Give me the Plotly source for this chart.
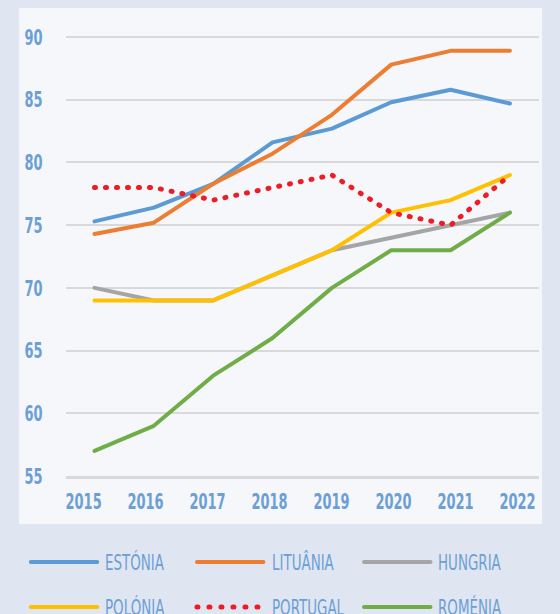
import plotly.graph_objects as go

years = [2015, 2016, 2017, 2018, 2019, 2020, 2021, 2022]
estonia = [75.3, 76.4, 78.3, 81.6, 82.7, 84.8, 85.8, 84.7]
lituania = [74.3, 75.2, 78.3, 80.7, 83.8, 87.8, 88.9, 88.9]
hungria = [70, 69, 69, 71, 73, 74, 75, 76]
polonia = [69, 69, 69, 71, 73, 76, 77, 79]
portugal = [78, 78, 77, 78, 79, 76, 75, 79]
romenia = [57, 59, 63, 66, 70, 73, 73, 76]
y_ticks = [55, 60, 65, 70, 75, 80, 85, 90]

series = [
    ("ESTÓNIA", estonia, "#5b9bd5", "solid", 4),
    ("LITUÂNIA", lituania, "#ed7d31", "solid", 4),
    ("HUNGRIA", hungria, "#a5a5a5", "solid", 4),
    ("POLÓNIA", polonia, "#ffc000", "solid", 4),
    ("PORTUGAL", portugal, "#ee1c25", "1px,10px", 5),
    ("ROMÉNIA", romenia, "#70ad47", "solid", 4),
]
draw_order = [2, 5, 3, 0, 1, 4]

FONT = "DejaVu Sans"
TXT = "#6c9fd6"

fig = go.Figure()
for i in draw_order:
    name, vals, col, dash, w = series[i]
    fig.add_trace(go.Scatter(x=years, y=vals, mode="lines", name=name,
                             line=dict(color=col, width=w, dash=dash),
                             showlegend=False, hoverinfo="skip"))
# invisible carrier for the year-label axis
fig.add_trace(go.Scatter(x=years, y=hungria, mode="lines", xaxis="x2",
                         line=dict(width=0), opacity=0, showlegend=False,
                         hoverinfo="skip"))

L, R, T, B = 60, 16, 20, 138
W, H = 560, 614
pw, ph = W - L - R, H - T - B

def px(x):
    return (x - L) / pw

def py(y):
    return (H - B - y) / ph

shapes = [dict(type="rect", xref="paper", yref="paper", x0=px(12), x1=px(547),
               y0=py(524), y1=py(8), fillcolor="#f5f7fb", line=dict(width=0),
               layer="below")]
annotations = []
cols_x = [22, 192, 363]
text_x = [99, 270, 440]
rows_y = [562, 607]
for k, (name, vals, col, dash, w) in enumerate(series):
    cx = cols_x[k % 3]
    ry = rows_y[k // 3]
    ldash = "1px,11px" if dash != "solid" else "solid"
    shapes.append(dict(type="line", xref="paper", yref="paper",
                       x0=px(cx + 2), x1=px(cx + 70), y0=py(ry), y1=py(ry),
                       line=dict(color=col, width=w, dash=ldash)))
    annotations.append(dict(text=name, xref="paper", yref="paper", x=px(text_x[k % 3]),
                            y=py(ry), xanchor="left", yanchor="middle", align="left",
                            showarrow=False, borderpad=0,
                            font=dict(family=FONT, size=22, color=TXT)))

fig.update_layout(
    width=W, height=H, autosize=False,
    margin=dict(l=L, r=R, t=T, b=B),
    paper_bgcolor="#dfe6f1",
    plot_bgcolor="rgba(0,0,0,0)",
    shapes=shapes,
    annotations=annotations,
    hovermode=False,
    xaxis=dict(range=[2014.52, 2022.49], tickvals=years, showgrid=False, zeroline=False,
               showline=True, linecolor="#d9d9d9", linewidth=3, showticklabels=False,
               ticks=""),
    xaxis2=dict(range=[2014.716, 2022.347], tickvals=years, overlaying="x", anchor="y",
                side="bottom", showgrid=False, zeroline=False, showline=False, tickangle=0,
                tickfont=dict(family=FONT, size=22, color=TXT, weight="bold"),
                ticks="outside", ticklen=6, tickcolor="rgba(0,0,0,0)"),
    yaxis=dict(range=[55, 91.36], tickvals=y_ticks, showgrid=True, gridcolor="#d9d9d9",
               gridwidth=2, zeroline=False, showline=False,
               tickfont=dict(family=FONT, size=22, color=TXT, weight="bold"),
               ticks="outside", ticklen=18, tickcolor="rgba(0,0,0,0)"),
)

post = """
document.body.style.margin='0';
document.body.style.background='#dfe6f1';
var st=document.createElement('style');
st.textContent='.js-line,.shapelayer path{stroke-linecap:round;stroke-linejoin:round;}';
document.head.appendChild(st);
function sq(sel,k){document.querySelectorAll(sel).forEach(function(el){
  var bb=el.getBBox();
  var a=el.getAttribute('text-anchor')||window.getComputedStyle(el).textAnchor;
  var ox=a==='end'?bb.x+bb.width:(a==='middle'?bb.x+bb.width/2:bb.x);
  var t=el.getAttribute('transform')||'';
  el.setAttribute('transform',t+' translate('+ox+',0) scale('+k+',1) translate('+(-ox)+',0)');
});}
sq('.x2tick text',0.59);sq('.ytick text',0.59);sq('.annotation-text',0.61);
"""
fig.write_html("out.html", post_script=post,
               config={"displayModeBar": False, "responsive": False})
